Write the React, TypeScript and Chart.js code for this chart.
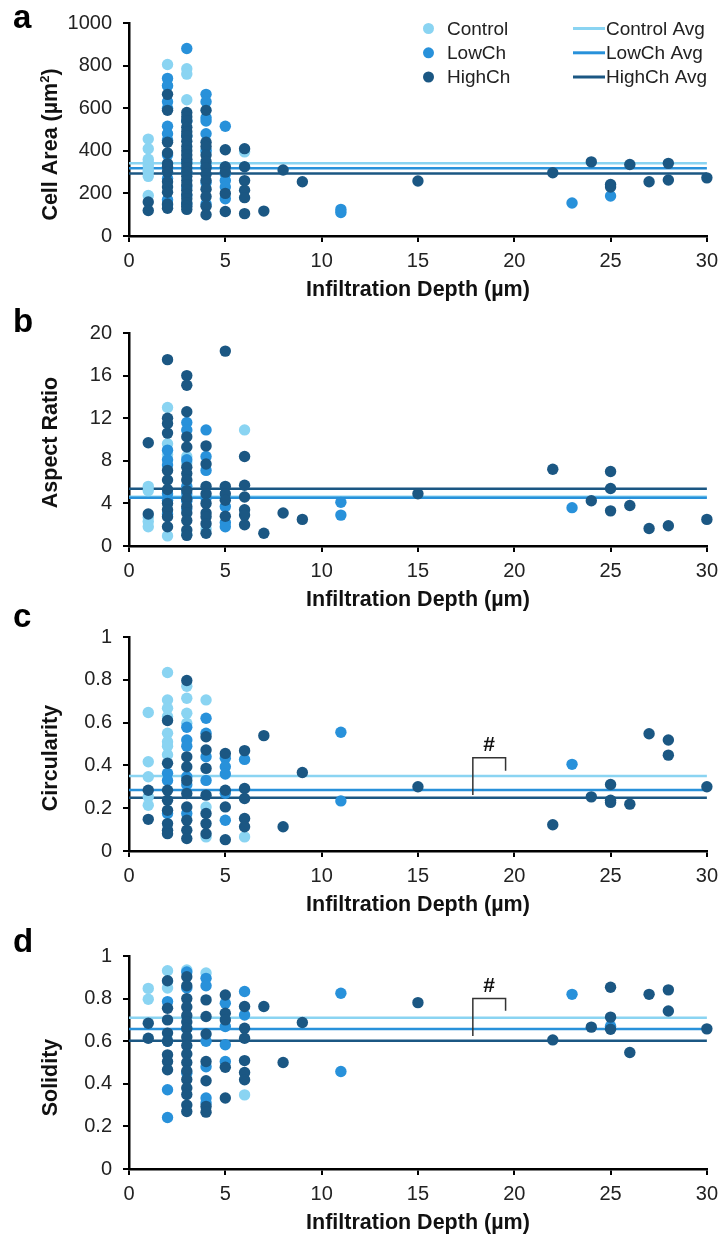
import React, { useEffect, useRef } from "react";
import { Chart, registerables } from "chart.js";

Chart.register(...registerables);

type Pt = [number, number];

const FONT = '"Liberation Sans", Arial, Helvetica, sans-serif';

// ---------- series ----------
const seriesNames = ["Control", "LowCh", "HighCh"];
const seriesColors = ["#8AD4F2", "#2891DA", "#1B5783"];

// ---------- x axis ----------
const xTitle = "Infiltration Depth (µm)";
const xMin = 0;
const xMax = 30;
const xStep = 5;

// ---------- panel a : Cell Area ----------
const areaTitle = ["Cell Area (µm", "2", ")"];
const areaTicks = [0, 1000, 200];
const areaControl: Pt[] = [
  [1, 455], [1, 410], [1, 360], [1, 345], [1, 330], [1, 310], [1, 300], [1, 280], [1, 190],
  [2, 805], [2, 705], [3, 785], [3, 760], [3, 640], [4, 400], [6, 395],
];
const areaLow: Pt[] = [
  [2, 740], [2, 705], [2, 630], [2, 600], [2, 515], [2, 480], [2, 450], [2, 380], [2, 300], [2, 270], [2, 170], [2, 145],
  [3, 880], [3, 540], [3, 470], [3, 350], [3, 300], [3, 230], [3, 190], [3, 150],
  [4, 665], [4, 630], [4, 555], [4, 540], [4, 480], [4, 400], [4, 330], [4, 250], [4, 150],
  [5, 515], [5, 290], [5, 260], [5, 230], [5, 175],
  [11, 125], [11, 110], [23, 155], [25, 188],
];
const areaHigh: Pt[] = [
  [1, 160], [1, 120],
  [2, 665], [2, 590], [2, 440], [2, 390], [2, 340], [2, 325], [2, 300], [2, 255], [2, 230], [2, 205], [2, 150], [2, 130],
  [3, 580], [3, 560], [3, 540], [3, 510], [3, 490], [3, 470], [3, 445], [3, 420], [3, 400], [3, 380], [3, 360], [3, 340],
  [3, 320], [3, 300], [3, 280], [3, 260], [3, 240], [3, 215], [3, 195], [3, 175], [3, 155], [3, 140], [3, 125],
  [4, 590], [4, 440], [4, 420], [4, 380], [4, 350], [4, 320], [4, 290], [4, 260], [4, 220], [4, 185], [4, 140], [4, 100],
  [5, 405], [5, 325], [5, 300], [5, 200], [5, 115],
  [6, 410], [6, 325], [6, 260], [6, 215], [6, 180], [6, 105],
  [7, 117], [8, 310], [9, 255], [15, 258], [22, 297], [24, 348], [25, 242], [25, 230], [26, 336], [27, 255],
  [28, 341], [28, 263], [30, 273],
];
const areaAvg = [341, 318, 294];

// ---------- panel b : Aspect Ratio ----------
const arTitle = ["Aspect Ratio"];
const arTicks = [0, 20, 4];
const arControl: Pt[] = [
  [1, 5.6], [1, 5.2], [1, 2.7], [1, 2.3], [1, 1.8],
  [2, 13.0], [2, 9.6], [2, 8.6], [2, 0.95], [3, 8.4], [3, 7.8], [3, 1.1], [4, 1.6], [6, 10.9],
];
const arLow: Pt[] = [
  [2, 9.0], [2, 8.1], [2, 7.6], [2, 4.9], [2, 4.3], [2, 3.0],
  [3, 11.6], [3, 10.9], [3, 8.1], [3, 5.6], [3, 4.9], [3, 4.2], [3, 3.5],
  [4, 10.9], [4, 8.4], [4, 7.1], [4, 4.5], [5, 3.7], [5, 2.2], [5, 1.8],
  [11, 4.1], [11, 2.9], [23, 3.6],
];
const arHigh: Pt[] = [
  [1, 9.7], [1, 3.0],
  [2, 17.5], [2, 12.0], [2, 11.5], [2, 10.6], [2, 7.1], [2, 6.2], [2, 5.3], [2, 4.0], [2, 3.4], [2, 2.75], [2, 1.8],
  [3, 16.0], [3, 15.1], [3, 12.6], [3, 10.25], [3, 9.3], [3, 7.4], [3, 6.8], [3, 6.2], [3, 5.2], [3, 4.4], [3, 3.7],
  [3, 3.1], [3, 2.4], [3, 1.5], [3, 1.0],
  [4, 9.4], [4, 7.7], [4, 5.6], [4, 4.9], [4, 4.0], [4, 3.1], [4, 2.75], [4, 2.1], [4, 1.2],
  [5, 18.3], [5, 5.6], [5, 4.9], [5, 4.3], [5, 2.8],
  [6, 8.4], [6, 5.7], [6, 4.6], [6, 3.4], [6, 2.9], [6, 2.0],
  [7, 1.2], [8, 3.1], [9, 2.5], [15, 4.9], [22, 7.2], [24, 4.25], [25, 7.0], [25, 5.4], [25, 3.3], [26, 3.8],
  [27, 1.65], [28, 1.9], [30, 2.5],
];
const arAvg = [4.62, 4.52, 5.38];

// ---------- panel c : Circularity ----------
const circTitle = ["Circularity"];
const circTicks = [0, 1, 0.2];
const circControl: Pt[] = [
  [1, 0.647], [1, 0.417], [1, 0.347], [1, 0.253], [1, 0.214],
  [2, 0.834], [2, 0.706], [2, 0.667], [2, 0.628], [2, 0.55], [2, 0.51], [2, 0.49], [2, 0.45],
  [3, 0.77], [3, 0.714], [3, 0.644], [3, 0.597], [4, 0.706], [4, 0.206], [4, 0.066], [6, 0.066],
];
const circLow: Pt[] = [
  [2, 0.363], [2, 0.33], [2, 0.175],
  [3, 0.578], [3, 0.519], [3, 0.49], [3, 0.347], [3, 0.31], [3, 0.175],
  [4, 0.62], [4, 0.55], [4, 0.44], [4, 0.33],
  [5, 0.433], [5, 0.394], [5, 0.36], [5, 0.27], [5, 0.144], [6, 0.428],
  [11, 0.555], [11, 0.234], [23, 0.405],
];
const circHigh: Pt[] = [
  [1, 0.284], [1, 0.148],
  [2, 0.61], [2, 0.41], [2, 0.284], [2, 0.237], [2, 0.19], [2, 0.128], [2, 0.097], [2, 0.081],
  [3, 0.797], [3, 0.44], [3, 0.394], [3, 0.33], [3, 0.269], [3, 0.206], [3, 0.144], [3, 0.097], [3, 0.058],
  [4, 0.534], [4, 0.472], [4, 0.386], [4, 0.261], [4, 0.175], [4, 0.128], [4, 0.081],
  [5, 0.456], [5, 0.284], [5, 0.206], [5, 0.053],
  [6, 0.469], [6, 0.292], [6, 0.245], [6, 0.152], [6, 0.113],
  [7, 0.539], [8, 0.113], [9, 0.367], [15, 0.3], [22, 0.123], [24, 0.253], [25, 0.311], [25, 0.237], [25, 0.227],
  [26, 0.219], [27, 0.548], [28, 0.519], [28, 0.448], [30, 0.3],
];
const circAvg = [0.35, 0.285, 0.249];
const circBracket = [17.85, 19.55, 0.436, 0.262, 0.375];

// ---------- panel d : Solidity ----------
const solTitle = ["Solidity"];
const solTicks = [0, 1, 0.2];
const solControl: Pt[] = [
  [1, 0.848], [1, 0.797], [2, 0.931], [2, 0.88], [2, 0.85], [3, 0.934], [4, 0.92], [6, 0.348],
];
const solLow: Pt[] = [
  [2, 0.786], [2, 0.6], [2, 0.372], [2, 0.242],
  [3, 0.925], [3, 0.85], [3, 0.66], [3, 0.45],
  [4, 0.895], [4, 0.86], [4, 0.6], [4, 0.48], [4, 0.333], [4, 0.31],
  [5, 0.778], [5, 0.669], [5, 0.583], [5, 0.505], [6, 0.833], [6, 0.723],
  [11, 0.825], [11, 0.458], [23, 0.82], [25, 0.67],
];
const solHigh: Pt[] = [
  [1, 0.684], [1, 0.614],
  [2, 0.884], [2, 0.755], [2, 0.7], [2, 0.638], [2, 0.6], [2, 0.536], [2, 0.505], [2, 0.466],
  [3, 0.903], [3, 0.86], [3, 0.8], [3, 0.76], [3, 0.72], [3, 0.69], [3, 0.66], [3, 0.62], [3, 0.58], [3, 0.54],
  [3, 0.5], [3, 0.46], [3, 0.42], [3, 0.38], [3, 0.35], [3, 0.3], [3, 0.27],
  [4, 0.794], [4, 0.716], [4, 0.634], [4, 0.505], [4, 0.414], [4, 0.294], [4, 0.267],
  [5, 0.817], [5, 0.731], [5, 0.7], [5, 0.478], [5, 0.333],
  [6, 0.763], [6, 0.661], [6, 0.614], [6, 0.509], [6, 0.453], [6, 0.419],
  [7, 0.763], [8, 0.5], [9, 0.688], [15, 0.781], [22, 0.606], [24, 0.666], [25, 0.853], [25, 0.713], [25, 0.656],
  [26, 0.547], [27, 0.82], [28, 0.841], [28, 0.742], [30, 0.658],
];
const solAvg = [0.71, 0.657, 0.602];
const solBracket = [17.85, 19.55, 0.8, 0.624, 0.743];

// ---------- panel specs ----------
type Spec = {
  letter: string;
  yTitle: string[];
  ticks: number[];
  points: Pt[][];
  avgs: number[];
  bracket?: number[];
  legend?: boolean;
};

const specs: Spec[] = [
  { letter: "a", yTitle: areaTitle, ticks: areaTicks, points: [areaControl, areaLow, areaHigh], avgs: areaAvg, legend: true },
  { letter: "b", yTitle: arTitle, ticks: arTicks, points: [arControl, arLow, arHigh], avgs: arAvg },
  { letter: "c", yTitle: circTitle, ticks: circTicks, points: [circControl, circLow, circHigh], avgs: circAvg, bracket: circBracket },
  { letter: "d", yTitle: solTitle, ticks: solTicks, points: [solControl, solLow, solHigh], avgs: solAvg, bracket: solBracket },
];

// layout: canvas top, canvas height, padding, letter top, y-title vertical shift
const layouts = [
  { top: 0, height: 303, padTop: 22, padBottom: 0, letterTop: 0, titleShift: 15 },
  { top: 303, height: 310, padTop: 30, padBottom: 0, letterTop: 304, titleShift: 3 },
  { top: 613, height: 305, padTop: 24, padBottom: 0, letterTop: 599, titleShift: 14 },
  { top: 918, height: 322, padTop: 38, padBottom: 4, letterTop: 924, titleShift: 15 },
];

const TITLE_FONT = `bold 21.5px ${FONT}`;

const yTitlePlugin = {
  id: "yTitle",
  afterDraw(chart: any, _args: any, opts: any) {
    const parts: string[] | undefined = opts && opts.parts;
    if (!parts) return;
    const ctx = chart.ctx;
    const area = chart.chartArea;
    const cy = (area.top + area.bottom) / 2 + (opts.shift || 0);
    ctx.save();
    ctx.translate(51, cy);
    ctx.rotate(-Math.PI / 2);
    ctx.fillStyle = "#111";
    ctx.textBaseline = "middle";
    ctx.textAlign = "left";
    const supFont = `bold 13px ${FONT}`;
    const widths = parts.map((p, i) => {
      ctx.font = i === 1 ? supFont : TITLE_FONT;
      return ctx.measureText(p).width;
    });
    const total = widths.reduce((a, b) => a + b, 0);
    let x = -total / 2;
    parts.forEach((p, i) => {
      ctx.font = i === 1 ? supFont : TITLE_FONT;
      ctx.fillText(p, x, i === 1 ? -6 : 0);
      x += widths[i];
    });
    ctx.restore();
  },
};

const legendPlugin = {
  id: "customLegend",
  afterDraw(chart: any) {
    const ctx = chart.ctx;
    ctx.save();
    ctx.font = `19px ${FONT}`;
    ctx.textBaseline = "middle";
    ctx.textAlign = "left";
    const rows = [28.5, 52.8, 77];
    seriesNames.forEach((name, i) => {
      const y = rows[i];
      ctx.fillStyle = seriesColors[i];
      ctx.beginPath();
      ctx.arc(428.5, y, 5.5, 0, Math.PI * 2);
      ctx.fill();
      ctx.fillStyle = "#222";
      ctx.fillText(name, 447, y + 1);
      ctx.strokeStyle = seriesColors[i];
      ctx.lineWidth = 3;
      ctx.beginPath();
      ctx.moveTo(573, y);
      ctx.lineTo(605, y);
      ctx.stroke();
      ctx.fillStyle = "#222";
      ctx.fillText(name + " Avg", 606, y + 1);
    });
    ctx.restore();
  },
};

const bracketPlugin = {
  id: "bracket",
  afterDatasetsDraw(chart: any, _args: any, opts: any) {
    const b: number[] | undefined = opts && opts.values;
    if (!b) return;
    const xs = chart.scales.x;
    const ys = chart.scales.y;
    const ctx = chart.ctx;
    const x1 = xs.getPixelForValue(b[0]);
    const x2 = xs.getPixelForValue(b[1]);
    const yt = ys.getPixelForValue(b[2]);
    const yl = ys.getPixelForValue(b[3]);
    const yr = ys.getPixelForValue(b[4]);
    ctx.save();
    ctx.strokeStyle = "#333";
    ctx.lineWidth = 1.5;
    ctx.beginPath();
    ctx.moveTo(x1, yl);
    ctx.lineTo(x1, yt);
    ctx.lineTo(x2, yt);
    ctx.lineTo(x2, yr);
    ctx.stroke();
    ctx.fillStyle = "#111";
    ctx.font = `bold 21px ${FONT}`;
    ctx.textAlign = "center";
    ctx.textBaseline = "middle";
    ctx.fillText("#", (x1 + x2) / 2, yt - 12);
    ctx.restore();
  },
};

function Panel({ spec, layout }: { spec: Spec; layout: (typeof layouts)[number] }) {
  const ref = useRef<HTMLCanvasElement>(null);
  useEffect(() => {
    const canvas = ref.current;
    if (!canvas) return;
    const datasets: any[] = [];
    spec.points.forEach((pts, i) => {
      datasets.push({
        label: seriesNames[i],
        data: pts.map(([x, y]) => ({ x, y })),
        backgroundColor: seriesColors[i],
        pointBackgroundColor: seriesColors[i],
        pointBorderWidth: 0,
        pointRadius: 5.7,
        pointHoverRadius: 5.7,
        clip: false,
        order: 3 - i,
      });
    });
    spec.avgs.forEach((v, i) => {
      datasets.push({
        label: seriesNames[i] + " Avg",
        data: [{ x: xMin, y: v }, { x: xMax, y: v }],
        showLine: true,
        borderColor: seriesColors[i],
        borderWidth: 2.5,
        pointRadius: 0,
        order: 6 - i,
      });
    });
    const tickFont = { family: FONT, size: 20 };
    const titleFont = { family: FONT, size: 21.5, weight: "bold" as const };
    const chart = new Chart(canvas, {
      type: "scatter",
      data: { datasets },
      plugins: [...(spec.legend ? [legendPlugin] : []), bracketPlugin, yTitlePlugin],
      options: {
        animation: false,
        responsive: false,
        maintainAspectRatio: false,
        events: [],
        layout: { padding: { top: layout.padTop, right: 15, bottom: layout.padBottom, left: 0 } },
        plugins: {
          legend: { display: false },
          tooltip: { enabled: false },
          bracket: { values: spec.bracket },
          yTitle: { parts: spec.yTitle, shift: layout.titleShift },
        } as any,
        scales: {
          x: {
            type: "linear",
            min: xMin,
            max: xMax,
            ticks: { stepSize: xStep, padding: 7, color: "#222", font: tickFont, maxRotation: 0, callback: (v: any) => String(v) },
            grid: { drawOnChartArea: false, tickLength: 6, lineWidth: 2, color: "#000" },
            border: { color: "#000", width: 2.5 },
            title: { display: true, text: xTitle, color: "#111", font: titleFont, padding: { top: 0, bottom: 0 } },
            afterFit: (s: any) => {
              s.height = 67;
            },
          },
          y: {
            type: "linear",
            min: spec.ticks[0],
            max: spec.ticks[1],
            ticks: { stepSize: spec.ticks[2], padding: 11, color: "#222", font: tickFont, callback: (v: any) => String(Math.round(Number(v) * 1000) / 1000) },
            grid: { drawOnChartArea: false, tickLength: 6, lineWidth: 2, color: "#000" },
            border: { color: "#000", width: 2.5 },
            title: { display: false },
            afterFit: (s: any) => {
              s.width = 129;
            },
          },
        },
      } as any,
    });
    return () => chart.destroy();
  }, [spec, layout]);

  return (
    <canvas
      ref={ref}
      width={725}
      height={layout.height}
      style={{ position: "absolute", left: 0, top: layout.top, width: 725, height: layout.height, display: "block" }}
    />
  );
}

export default function App() {
  return (
    <div style={{ position: "absolute", left: 0, top: 0, width: 725, height: 1240, background: "#fff", overflow: "hidden" }}>
      {specs.map((s, i) => (
        <Panel key={s.letter} spec={s} layout={layouts[i]} />
      ))}
      {specs.map((s, i) => (
        <div
          key={"l" + s.letter}
          style={{
            position: "absolute",
            left: 13,
            top: layouts[i].letterTop,
            fontFamily: FONT,
            fontWeight: "bold",
            fontSize: 33,
            lineHeight: "33px",
            color: "#000",
            zIndex: 2,
          }}
        >
          {s.letter}
        </div>
      ))}
    </div>
  );
}
